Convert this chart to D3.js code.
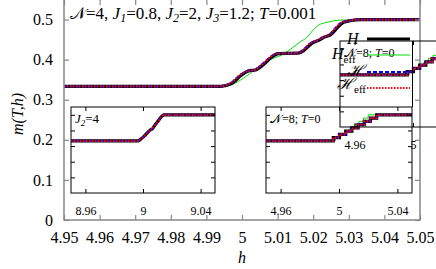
<!DOCTYPE html>
<html lang="en">
<head>
    <meta charset="UTF-8">
    <title>m(T,h) steps</title>
    <script src="https://d3js.org/d3.v7.min.js"></script>
    <style>
        body { margin: 0; background: #fff; }
        .frame { fill: none; stroke: #888; stroke-width: 1.5px; }
        .iframe { fill: none; stroke: #000; stroke-width: 1px; }
        .main-axis text { font-size: 16px; fill: #000; }
        .main-axis line { stroke: #888; stroke-width: 1.2px; }
        .in-axis text { font-size: 12px; fill: #000; }
        .in-axis line { stroke: #000; }
        .domain { display: none; }
        .it { font-style: italic; }
    </style>
</head>
<body>
<div id="chart"></div>
<script>
// main panel: N=4, T=0.001
const mainH   = [4.95, 4.990, 4.9938, 4.9966, 4.9994, 5.0013, 5.0037, 5.0059, 5.0079, 5.0098, 5.0155, 5.0171, 5.0191, 5.0211, 5.0228, 5.0247, 5.0261, 5.0281, 5.0303, 5.0331, 5.05];
const mainM   = [0.3333, 0.3333, 0.3335, 0.340, 0.361, 0.371, 0.375, 0.390, 0.406, 0.415, 0.416, 0.423, 0.440, 0.448, 0.456, 0.463, 0.477, 0.493, 0.4975, 0.5, 0.5];
const blackH  = [4.95, 4.990, 4.9941, 4.9970, 4.9998, 5.0016, 5.0040, 5.0063, 5.0083, 5.0102, 5.0157, 5.0174, 5.0195, 5.0215, 5.0231, 5.0250, 5.0265, 5.0285, 5.0306, 5.0333, 5.05];
const greenH  = [4.95, 4.9938, 4.9966, 4.9994, 5.0022, 5.0051, 5.0079, 5.0107, 5.0135, 5.0163, 5.0183, 5.0199, 5.0219, 5.0239, 5.0247, 5.0275, 5.05];
const greenM  = [0.3333, 0.333, 0.336, 0.348, 0.365, 0.386, 0.400, 0.410, 0.425, 0.444, 0.456, 0.473, 0.488, 0.493, 0.495, 0.4985, 0.5];

// inset J2=4
const j4H     = [8.95, 8.9965, 8.9985, 9.0010, 9.0035, 9.0050, 9.0065, 9.0080, 9.0105, 9.0130, 9.0145, 9.05];
const j4M     = [0.3333, 0.3333, 0.345, 0.365, 0.390, 0.403, 0.410, 0.430, 0.460, 0.490, 0.5, 0.5];
const j4GreenM = [0.3333, 0.3333, 0.345, 0.366, 0.392, 0.405, 0.414, 0.437, 0.472, 0.497, 0.5, 0.5];

// inset N=8, T=0 (staircase)
const n8H     = [4.95, 4.9961, 5.0003, 5.0046, 5.0088, 5.0131, 5.0173, 5.0215, 5.0258, 5.05];
const n8M     = [0.3333, 0.3542, 0.3750, 0.3958, 0.4167, 0.4375, 0.4583, 0.4792, 0.5, 0.5];
const n8GreenH = [4.95, 4.9975, 5.0012, 5.0043, 5.0075, 5.0105, 5.0137, 5.0168, 5.0200, 5.05];

const mainTicksX = [4.95, 4.96, 4.97, 4.98, 4.99, 5, 5.01, 5.02, 5.03, 5.04, 5.05];
const mainTicksY = [0, 0.1, 0.2, 0.3, 0.4, 0.5];
const insetTicksY = [0.1, 0.2, 0.3, 0.4, 0.5];

const W = 436, H = 269;
const svg = d3.select('#chart').append('svg')
    .attr('width', W).attr('height', H);

const fmt = d => String(+d.toFixed(2));

const series = (xs, ys) => xs.map((h, i) => ({ h: h, m: ys[i] }));

const styles = {
    green: { stroke: '#00dd00', width: 1, dash: null },
    black: { stroke: '#000', width: 3.2, dash: null },
    blue:  { stroke: '#0000ff', width: 2.2, dash: '4,2' },
    red:   { stroke: '#ff0000', width: 2.2, dash: '1.5,1.5' }
};

function drawLine(g, data, x, y, st, curve) {
    g.append('path')
        .datum(data)
        .attr('fill', 'none')
        .attr('stroke', st.stroke)
        .attr('stroke-width', st.width)
        .attr('stroke-dasharray', st.dash)
        .attr('d', d3.line().x(d => x(d.h)).y(d => y(d.m)).curve(curve));
}

// ---------- main panel ----------
const xMain = d3.scaleLinear().domain([4.95, 5.05]).range([64, 420]);
const yMain = d3.scaleLinear().domain([0, 0.55]).range([220, -0.5]);

const mainG = svg.append('g');
const smooth = d3.curveMonotoneX;
drawLine(mainG, series(greenH, greenM), xMain, yMain, styles.green, smooth);
drawLine(mainG, series(blackH, mainM), xMain, yMain, styles.black, smooth);
drawLine(mainG, series(mainH, mainM), xMain, yMain, styles.blue, smooth);
drawLine(mainG, series(mainH, mainM), xMain, yMain, styles.red, smooth);

svg.append('g').attr('class', 'main-axis')
    .attr('transform', 'translate(0,220)')
    .call(d3.axisBottom(xMain).tickValues(mainTicksX).tickFormat(fmt)
        .tickSizeInner(-5).tickSizeOuter(0).tickPadding(12));
svg.append('g').attr('class', 'main-axis')
    .attr('transform', 'translate(0,0)')
    .call(d3.axisTop(xMain).tickValues(mainTicksX).tickFormat('')
        .tickSizeInner(-5).tickSizeOuter(0));
svg.append('g').attr('class', 'main-axis')
    .attr('transform', 'translate(64,0)')
    .call(d3.axisLeft(yMain).tickValues(mainTicksY).tickFormat(fmt)
        .tickSizeInner(-5).tickSizeOuter(0).tickPadding(11));
svg.append('g').attr('class', 'main-axis')
    .attr('transform', 'translate(420,0)')
    .call(d3.axisRight(yMain).tickValues(mainTicksY).tickFormat('')
        .tickSizeInner(-5).tickSizeOuter(0));

svg.append('path').attr('class', 'frame')
    .attr('d', `M64,-1V220H420V-1`);

// title
const title = svg.append('text').attr('x', 70).attr('y', 19).attr('font-size', 17);
title.append('tspan').text('𝒩=4, ');
title.append('tspan').attr('class', 'it').text('J');
title.append('tspan').attr('font-size', 12).attr('dy', 3).attr('class', 'it').text('1');
title.append('tspan').attr('dy', -3).text('=0.8, ');
title.append('tspan').attr('class', 'it').text('J');
title.append('tspan').attr('font-size', 12).attr('dy', 3).attr('class', 'it').text('2');
title.append('tspan').attr('dy', -3).text('=2, ');
title.append('tspan').attr('class', 'it').text('J');
title.append('tspan').attr('font-size', 12).attr('dy', 3).attr('class', 'it').text('3');
title.append('tspan').attr('dy', -3).text('=1.2; ');
title.append('tspan').attr('class', 'it').text('T');
title.append('tspan').text('=0.001');

// axis titles
svg.append('text').attr('class', 'it').attr('font-size', 16)
    .attr('x', 242).attr('y', 263).attr('text-anchor', 'middle').text('h');
svg.append('text').attr('class', 'it').attr('font-size', 16)
    .attr('transform', 'translate(23,114) rotate(-90)')
    .attr('text-anchor', 'middle').text('m(T,h)');

// ---------- insets ----------
function inset(opt) {
    const g = svg.append('g');
    const x = d3.scaleLinear().domain(opt.domain).range([opt.x0, opt.x0 + opt.w]);
    const y = d3.scaleLinear().domain([0, 0.55]).range([opt.y0 + 86, opt.y0]);
    const curve = opt.step ? d3.curveStepAfter : d3.curveMonotoneX;
    drawLine(g, series(opt.gh, opt.gm), x, y, styles.green, curve);
    drawLine(g, series(opt.hh, opt.mm), x, y, styles.black, curve);
    drawLine(g, series(opt.hh, opt.mm), x, y, styles.blue, curve);
    drawLine(g, series(opt.hh, opt.mm), x, y, styles.red, curve);

    g.append('g').attr('class', 'in-axis')
        .attr('transform', `translate(0,${opt.y0 + 86})`)
        .call(d3.axisBottom(x).tickValues(opt.ticks).tickFormat(fmt)
            .tickSizeInner(-4).tickSizeOuter(0).tickPadding(13));
    g.append('g').attr('class', 'in-axis')
        .attr('transform', `translate(0,${opt.y0})`)
        .call(d3.axisTop(x).tickValues(opt.ticks).tickFormat('')
            .tickSizeInner(-4).tickSizeOuter(0));
    g.append('g').attr('class', 'in-axis')
        .attr('transform', `translate(${opt.x0},0)`)
        .call(d3.axisLeft(y).tickValues(insetTicksY).tickFormat('')
            .tickSizeInner(-4).tickSizeOuter(0));
    g.append('g').attr('class', 'in-axis')
        .attr('transform', `translate(${opt.x0 + opt.w},0)`)
        .call(d3.axisRight(y).tickValues(insetTicksY).tickFormat('')
            .tickSizeInner(-4).tickSizeOuter(0));
    g.append('rect').attr('class', 'iframe')
        .attr('x', opt.x0).attr('y', opt.y0).attr('width', opt.w).attr('height', 86);
    return g;
}

const left = inset({ domain: [8.95, 9.05], x0: 71, y0: 107, w: 144, ticks: [8.96, 9, 9.04],
    hh: j4H, mm: j4M, gh: j4H, gm: j4GreenM, step: false });
const lbl = left.append('text').attr('x', 75).attr('y', 123).attr('font-size', 13);
lbl.append('tspan').attr('class', 'it').text('J');
lbl.append('tspan').attr('font-size', 9).attr('dy', 3).attr('class', 'it').text('2');
lbl.append('tspan').attr('dy', -3).text('=4');

function n8Label(g, x, y) {
    const t = g.append('text').attr('x', x).attr('y', y).attr('font-size', 12);
    t.append('tspan').text('𝒩=8; ');
    t.append('tspan').attr('class', 'it').text('T');
    t.append('tspan').text('=0');
}

const right = inset({ domain: [4.95, 5.05], x0: 266, y0: 107, w: 146, ticks: [4.96, 5, 5.04],
    hh: n8H, mm: n8M, gh: n8GreenH, gm: n8M, step: true });
n8Label(right, 270, 123);

// duplicated inset (top right, partly off the page)
const copy = inset({ domain: [4.95, 5.05], x0: 340, y0: 41, w: 146, ticks: [4.96, 5],
    hh: n8H, mm: n8M, gh: n8GreenH, gm: n8M, step: true });
n8Label(copy, 344, 57);

svg.append('line').attr('x1', 412.5).attr('x2', 412.5).attr('y1', 41).attr('y2', 107)
    .attr('stroke', '#000');

// ---------- legend ----------
const legend = [
    { key: 'black', label: 'H', sub: '', x: 347, y: 44, ly: 39 },
    { key: 'green', label: 'H', sub: 'eff', x: 332, y: 59, ly: 55 },
    { key: 'blue',  label: 'ℋ', sub: '', x: 347, y: 76, ly: 72 },
    { key: 'red',   label: 'ℋ', sub: 'eff', x: 337, y: 89, ly: 88 }
];
legend.forEach(d => {
    const st = styles[d.key];
    svg.append('line').attr('x1', 367).attr('x2', 410).attr('y1', d.ly).attr('y2', d.ly)
        .attr('stroke', st.stroke).attr('stroke-width', st.width)
        .attr('stroke-dasharray', st.dash);
    const t = svg.append('text').attr('x', d.x).attr('y', d.y).attr('font-size', 16);
    t.append('tspan').attr('class', 'it').text(d.label);
    if (d.sub) t.append('tspan').attr('font-size', 11).attr('dy', 4).text(d.sub);
});

// serif type everywhere, set on the nodes themselves
svg.selectAll('text').style('font-family', '"Liberation Serif", serif');
</script>
</body>
</html>
